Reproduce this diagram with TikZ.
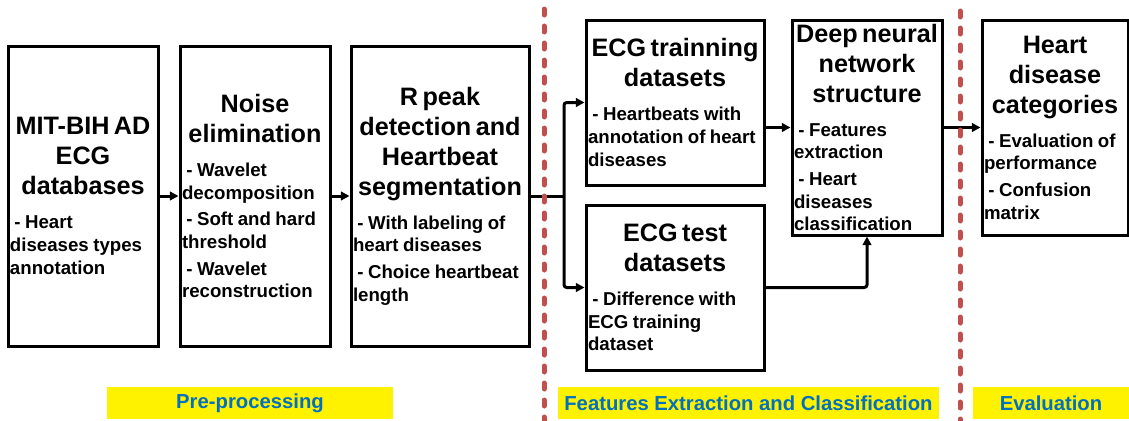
\documentclass[tikz,border=0pt]{standalone}
\usepackage{fontspec}
\setmainfont{Liberation Sans}
\usetikzlibrary{arrows.meta}

\definecolor{dotred}{RGB}{192,80,77}
\definecolor{tagblue}{RGB}{0,112,192}

\newcommand{\boxtitle}[1]{{\centering\fontsize{18.9}{22.5}\selectfont #1\par}\vspace{5.5pt}}
\newcommand{\boxitem}[1]{\vspace{3pt}{\raggedright\fontsize{14}{17}\selectfont\ - #1\par}}

\begin{document}
\begin{tikzpicture}[x=0.75pt, y=-0.75pt]

% parameters %{{{2

	\def\lw{2.25pt}

	\tikzset{
		stagebox/.style 2 args={draw, line width=\lw, text width=#1, minimum height=#2,
			inner xsep=1.5pt, inner ysep=0pt, font=\bfseries,
			execute at begin node={\parindent=0pt}},
		conn/.style={line width=\lw, rounded corners=2pt, -{Triangle[length=6.5pt,width=6.5pt]}},
		divider/.style={dotred, line width=3.75pt, line cap=round, dash pattern=on 4.5pt off 8.25pt},
		tag/.style={fill=yellow, text=tagblue, inner sep=0pt, minimum height=24pt,
			font=\bfseries\fontsize{15.2}{18}\selectfont},
	}

% frame %{{{2

	\useasboundingbox (0,0) rectangle (1129,421);

% stage boxes %{{{2

	\node[stagebox={109.5pt}{225pt}] (db) at (83,196) {%
		\boxtitle{MIT-BIH AD\\ECG\\databases}
		\boxitem{Heart\\diseases types\\annotation}};

	\node[stagebox={109.5pt}{225pt}] (noise) at (255,196) {%
		\boxtitle{Noise\\elimination}
		\boxitem{Wavelet\\decomposition}
		\boxitem{Soft and hard\\threshold}
		\boxitem{Wavelet\\reconstruction}};

	\node[stagebox={130.5pt}{225pt}] (rpeak) at (440,196) {%
		\boxtitle{R peak\\detection and\\Heartbeat\\segmentation}
		\boxitem{With labeling of\\heart diseases}
		\boxitem{Choice heartbeat\\length}};

	\node[stagebox={130.5pt}{123.75pt}] (train) at (675,102.5) {%
		\boxtitle{ECG trainning\\datasets}
		\boxitem{Heartbeats with\\annotation of heart\\diseases}};

	\node[stagebox={130.5pt}{123.75pt}] (test) at (675,287.5) {%
		\boxtitle{ECG test\\datasets}
		\boxitem{Difference with\\ECG training\\dataset}};

	\node[stagebox={109.5pt}{161.25pt}] (dnn) at (867,127.5) {%
		\boxtitle{Deep neural\\network\\structure}
		\boxitem{Features\\extraction}
		\boxitem{Heart\\diseases\\classification}};

	\node[stagebox={106.5pt}{161.25pt}] (cat) at (1055,127.5) {%
		\boxtitle{Heart\\disease\\categories}
		\boxitem{Evaluation of\\performance}
		\boxitem{Confusion\\matrix}};

% connectors %{{{2

	\coordinate (split) at (564,196);

	\draw[conn] (db) -- (noise);
	\draw[conn] (noise) -- (rpeak);
	\draw[line width=\lw] (rpeak.east) -- (split);
	\draw[conn] (split) |- (train.west);
	\draw[conn] (split) |- (test.west);
	\draw[conn] (dnn.west -| train.east) -- (dnn.west);
	\draw[conn] (test.east) -| (dnn.south);
	\draw[conn] (dnn) -- (cat);

% dividers %{{{2

	\coordinate (d1top) at (544,9);
	\coordinate (d1bot) at (544,421);
	\coordinate (d2top) at (960,11);
	\coordinate (d2bot) at (960,421);

	\draw[divider] (d1top) -- (d1bot);
	\draw[divider] (d2top) -- (d2bot);

% phase tags %{{{2

	\node[tag, minimum width=214.5pt] (pre) at (250,403) {Pre-processing};
	\node[tag, minimum width=285.75pt] (fec) at (748.5,403) {Features Extraction and Classification};
	\node[tag, minimum width=117pt] (eva) at (1051,403) {Evaluation};

% closing %{{{2

\end{tikzpicture}
\end{document}
